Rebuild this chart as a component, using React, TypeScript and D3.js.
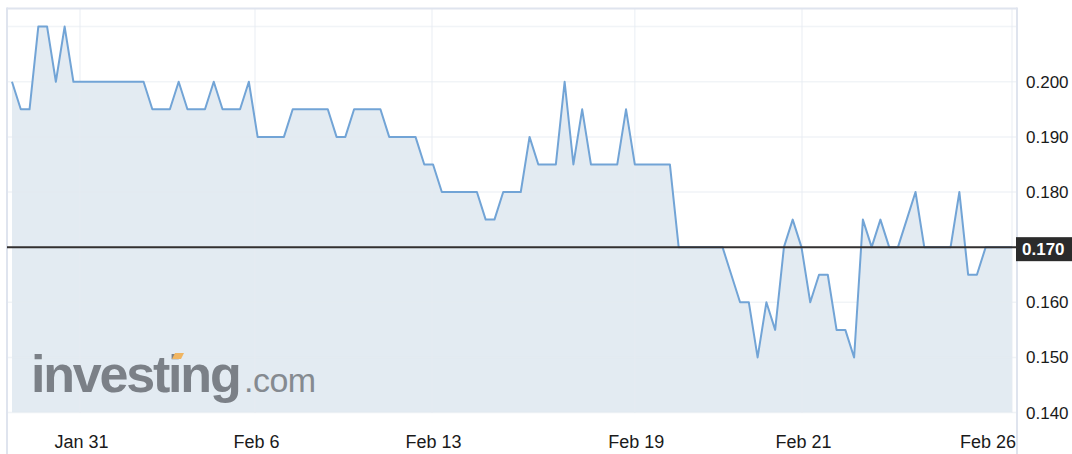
import React from "react";
import * as d3 from "d3";

// Price series (one value per trading interval, left to right)
const prices: number[] = [
  0.2, 0.195, 0.195, 0.21, 0.21, 0.2, 0.21, 0.2,
  0.2, 0.2, 0.2, 0.2, 0.2, 0.2, 0.2, 0.2,
  0.195, 0.195, 0.195, 0.2, 0.195, 0.195, 0.195, 0.2,
  0.195, 0.195, 0.195, 0.2, 0.19, 0.19, 0.19, 0.19,
  0.195, 0.195, 0.195, 0.195, 0.195, 0.19, 0.19, 0.195,
  0.195, 0.195, 0.195, 0.19, 0.19, 0.19, 0.19, 0.185,
  0.185, 0.18, 0.18, 0.18, 0.18, 0.18, 0.175, 0.175,
  0.18, 0.18, 0.18, 0.19, 0.185, 0.185, 0.185, 0.2,
  0.185, 0.195, 0.185, 0.185, 0.185, 0.185, 0.195, 0.185,
  0.185, 0.185, 0.185, 0.185, 0.17, 0.17, 0.17, 0.17,
  0.17, 0.17, 0.165, 0.16, 0.16, 0.15, 0.16, 0.155,
  0.17, 0.175, 0.17, 0.16, 0.165, 0.165, 0.155, 0.155,
  0.15, 0.175, 0.17, 0.175, 0.17, 0.17, 0.175, 0.18,
  0.17, 0.17, 0.17, 0.17, 0.18, 0.165, 0.165, 0.17,
];

// Date ticks (position in interval units) and labels
const dateTickPos: number[] = [7.75, 27.7, 47.88, 71.0, 90.06, 114];
const dateTickLabels: string[] = ["Jan 31", "Feb 6", "Feb 13", "Feb 19", "Feb 21", "Feb 26"];

// Price axis ticks
const priceTicks: number[] = [0.14, 0.15, 0.16, 0.17, 0.18, 0.19, 0.2];
const priceGrid: number[] = [0.14, 0.15, 0.16, 0.17, 0.18, 0.19, 0.2, 0.21];
const currentPrice = 0.17;
const domainEnd = 114;

const W = 1072;
const H = 454;
const FONT = "'Liberation Sans', Arial, Helvetica, sans-serif";

export default function App() {
  const x = d3.scaleLinear().domain([0, domainEnd]).range([12, 1012]);
  const y = d3.scaleLinear().domain([0.14, 0.21]).range([412.6, 26.6]);

  const pts: [number, number][] = prices.map((v, i) => [i, v]);
  const extended: [number, number][] = [...pts, [domainEnd, prices[prices.length - 1]]];

  const area = d3
    .area<[number, number]>()
    .x((d) => x(d[0]))
    .y0(y(0.14))
    .y1((d) => y(d[1]));
  const line = d3
    .line<[number, number]>()
    .x((d) => x(d[0]))
    .y((d) => y(d[1]));

  const left = 7;
  const right = 1017;
  const top = 8.5;

  return (
    <div style={{ position: "absolute", left: 0, top: 0 }}>
      <svg width={W} height={H} style={{ display: "block" }} fontFamily={FONT}>
        <rect x={0} y={0} width={W} height={H} fill="#ffffff" />
        {/* area */}
        <path d={area(extended) || ""} fill="#e3ebf2" />
        {/* grid */}
        {priceGrid.map((v) => (
          <line key={"h" + v} x1={left} x2={right} y1={y(v)} y2={y(v)} stroke="#e6ebf1" strokeOpacity={0.55} strokeWidth={1.5} />
        ))}
        {dateTickPos.map((p) => (
          <line key={"v" + p} x1={x(p)} x2={x(p)} y1={top} y2={413} stroke="#e6ebf1" strokeOpacity={0.6} strokeWidth={1.5} />
        ))}
        {/* frame */}
        <line x1={left} x2={right} y1={top} y2={top} stroke="#dfe4ee" strokeWidth={2} />
        <line x1={left} x2={left} y1={top - 1} y2={H} stroke="#dfe4ee" strokeWidth={2} />
        <line x1={right} x2={right} y1={top - 1} y2={H} stroke="#dfe4ee" strokeWidth={2} />
        {/* watermark */}
        <g fill="#7b8087">
          <text x={31} y={392} fontSize={52} fontWeight="bold" letterSpacing={-2.2} fontFamily={FONT}>
            investing
          </text>
          <text x={244} y={392} fontSize={34} fontWeight="normal" fill="#858a90" letterSpacing={-0.5} fontFamily={FONT}>
            .com
          </text>
          <path d="M172,359 L175,353 L184,353 L181,359 Z" fill="#f0b562" />
        </g>
        {/* price line */}
        <path d={line(extended) || ""} fill="none" stroke="#72a4d6" strokeWidth={2} strokeLinejoin="round" />
        {/* current price line */}
        <line x1={left} x2={right} y1={y(currentPrice)} y2={y(currentPrice)} stroke="#333030" strokeWidth={2} />
        {/* y axis labels */}
        {priceTicks
          .filter((v) => v !== currentPrice)
          .map((v) => (
            <text key={"yl" + v} x={1026} y={y(v) + 6} fontSize={17} fill="#1a1a1a">
              {v.toFixed(3)}
            </text>
          ))}
        <rect x={1016} y={y(currentPrice) - 10} width={56} height={24} fill="#2b2b2b" />
        <text x={1022} y={y(currentPrice) + 8} fontSize={17} fontWeight="bold" fill="#ffffff">
          {currentPrice.toFixed(3)}
        </text>
        {/* x axis labels */}
        {dateTickPos.map((p, i) => {
          const last = i === dateTickPos.length - 1;
          return (
            <text
              key={"xl" + p}
              x={last ? 1016 : x(p) + 1.5}
              y={448}
              fontSize={18}
              textAnchor={last ? "end" : "middle"}
              fill="#1a1a1a"
            >
              {dateTickLabels[i]}
            </text>
          );
        })}
      </svg>
    </div>
  );
}
